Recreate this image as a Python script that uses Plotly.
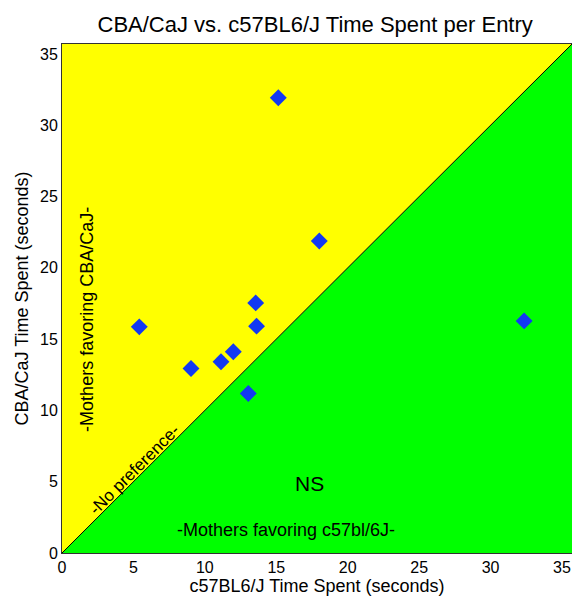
import plotly.graph_objects as go

# Data
c57_time = [5.41, 9.03, 11.13, 11.99, 13.56, 13.62, 13.04, 15.14, 18.01, 32.35]
cba_time = [15.86, 12.94, 13.41, 14.11, 17.54, 15.91, 11.19, 31.93, 21.88, 16.28]
tick_vals = [0, 5, 10, 15, 20, 25, 30, 35]
axis_max = 35.7

FONT = "Arial, Liberation Sans, sans-serif"

fig = go.Figure()
# Yellow region (above diagonal)
fig.add_trace(go.Scatter(x=[0, 0, axis_max, 0], y=[0, axis_max, axis_max, 0],
                         fill="toself", fillcolor="#FFFF00", mode="lines",
                         line=dict(width=0), hoverinfo="skip", showlegend=False))
# Green region (below diagonal)
fig.add_trace(go.Scatter(x=[0, axis_max, axis_max, 0], y=[0, 0, axis_max, 0],
                         fill="toself", fillcolor="#00FF00", mode="lines",
                         line=dict(width=0), hoverinfo="skip", showlegend=False))
# Diagonal line
fig.add_trace(go.Scatter(x=[0, axis_max], y=[0, axis_max], mode="lines",
                         line=dict(color="black", width=1), hoverinfo="skip", showlegend=False))
# Points
fig.add_trace(go.Scatter(x=c57_time, y=cba_time, mode="markers",
                         marker=dict(symbol="diamond", size=13, color="#1238F2",
                                     line=dict(width=0)),
                         showlegend=False))

annots = [
    dict(x=1.73, y=16.4, text="-Mothers favoring CBA/CaJ-", textangle=-90, size=18),
    dict(x=5.1, y=5.85, text="-No preference-", textangle=-45, size=17),
    dict(x=17.3, y=4.9, text="NS", textangle=0, size=21),
    dict(x=15.7, y=1.6, text="-Mothers favoring c57bl/6J-", textangle=0, size=18),
]
for a in annots:
    fig.add_annotation(x=a["x"], y=a["y"], text=a["text"], textangle=a["textangle"],
                       showarrow=False, font=dict(family=FONT, size=a["size"], color="black"))

axis_common = dict(range=[0, axis_max], tickvals=tick_vals, showgrid=False, zeroline=False,
                   showline=True, linecolor="#333333", linewidth=1, mirror=True,
                   ticks="", tickfont=dict(family=FONT, size=16, color="black"),
                   automargin=False)

fig.update_layout(
    width=572, height=597,
    margin=dict(l=62, r=0, t=44, b=44),
    paper_bgcolor="white", plot_bgcolor="white",
    title=dict(text="CBA/CaJ vs. c57BL6/J Time Spent per Entry", x=0.551, xanchor="center",
               y=0.96, yanchor="middle", font=dict(family=FONT, size=22, color="black")),
    xaxis=dict(**axis_common, title=dict(text="c57BL6/J Time Spent (seconds)", standoff=3,
                                         font=dict(family=FONT, size=18, color="black"))),
    yaxis=dict(**axis_common, title=dict(text="CBA/CaJ Time Spent (seconds)", standoff=6,
                                         font=dict(family=FONT, size=18, color="black"))),
    showlegend=False,
)

fig.write_html("out.html")
